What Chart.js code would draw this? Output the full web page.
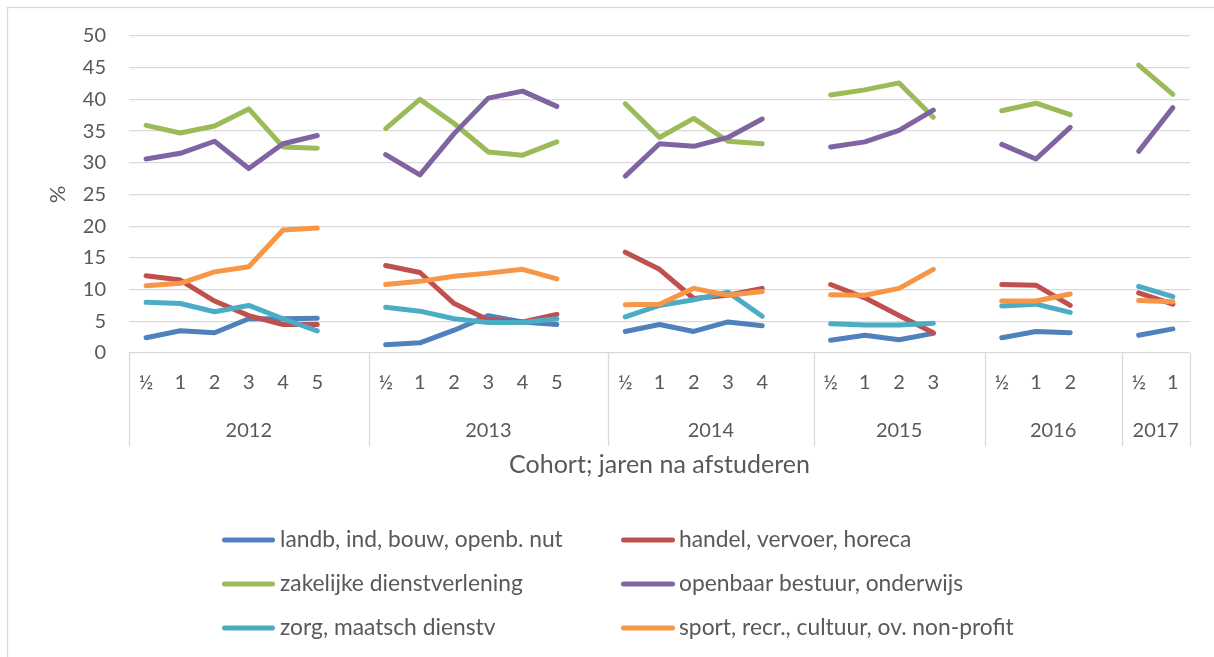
<!DOCTYPE html>
<html>
<head>
<meta charset="utf-8">
<script src="https://cdn.jsdelivr.net/npm/chart.js@4.4.1/dist/chart.umd.min.js"></script>
<style>
  html, body { margin: 0; padding: 0; background: #ffffff; overflow: hidden; }
  #wrap { width: 1214px; height: 657px; position: relative; }
</style>
</head>
<body>
<div id="wrap"><canvas id="c" width="1214" height="657"></canvas></div>
<script>
// Cohorts (graduation year) and years after graduation measured per cohort
const cohorts = ['2012', '2013', '2014', '2015', '2016', '2017'];
const yearsAfter = [
  ['½', '1', '2', '3', '4', '5'],
  ['½', '1', '2', '3', '4', '5'],
  ['½', '1', '2', '3', '4'],
  ['½', '1', '2', '3'],
  ['½', '1', '2'],
  ['½', '1']
];

// Share of graduates per sector (%), one sub-array per cohort
const landbouwIndustrie = [
  [2.4, 3.5, 3.2, 5.4, 5.4, 5.5],
  [1.3, 1.6, 3.6, 5.9, 4.9, 4.5],
  [3.4, 4.5, 3.4, 4.9, 4.3],
  [2.0, 2.8, 2.1, 3.1],
  [2.4, 3.4, 3.2],
  [2.8, 3.8]
];
const handelVervoer = [
  [12.2, 11.5, 8.2, 5.9, 4.5, 4.5],
  [13.8, 12.7, 7.8, 5.2, 4.9, 6.1],
  [15.9, 13.2, 8.6, 9.1, 10.2],
  [10.8, 8.7, 5.9, 3.2],
  [10.8, 10.7, 7.5],
  [9.5, 7.7]
];
const zakelijkeDienst = [
  [35.9, 34.7, 35.8, 38.5, 32.5, 32.3],
  [35.4, 40.0, 36.2, 31.7, 31.2, 33.3],
  [39.3, 34.0, 37.0, 33.4, 33.0],
  [40.7, 41.5, 42.6, 37.2],
  [38.2, 39.4, 37.6],
  [45.4, 40.8]
];
const openbaarBestuur = [
  [30.6, 31.5, 33.4, 29.1, 33.0, 34.3],
  [31.3, 28.1, 34.6, 40.2, 41.3, 38.9],
  [27.9, 33.0, 32.6, 34.0, 36.9],
  [32.5, 33.3, 35.1, 38.3],
  [32.9, 30.6, 35.6],
  [31.8, 38.7]
];
const zorgMaatsch = [
  [8.0, 7.8, 6.5, 7.5, 5.4, 3.5],
  [7.2, 6.6, 5.4, 4.8, 4.8, 5.4],
  [5.7, 7.5, 8.4, 9.6, 5.8],
  [4.6, 4.4, 4.4, 4.7],
  [7.4, 7.7, 6.4],
  [10.5, 8.9]
];
const sportCultuur = [
  [10.6, 11.0, 12.8, 13.6, 19.4, 19.7],
  [10.8, 11.3, 12.1, 12.6, 13.2, 11.7],
  [7.6, 7.7, 10.2, 9.1, 9.7],
  [9.2, 9.1, 10.2, 13.2],
  [8.2, 8.2, 9.3],
  [8.3, 8.1]
];

const seriesNames = [
  'landb, ind, bouw, openb. nut',
  'handel, vervoer, horeca',
  'zakelijke dienstverlening',
  'openbaar bestuur, onderwijs',
  'zorg, maatsch dienstv',
  'sport, recr., cultuur, ov. non-profit'
];
const seriesValues = [landbouwIndustrie, handelVervoer, zakelijkeDienst, openbaarBestuur, zorgMaatsch, sportCultuur];
const seriesColors = ['#4f81bd', '#c0504d', '#9bbb59', '#8064a2', '#4bacc6', '#f79646'];

const TEXT = '#595959';
const GRID = '#d9d9d9';
const FONT = 'Lato, "Open Sans", sans-serif';

// Flatten the cohorts into one category axis; an empty slot separates cohorts
const labels = [];
const groupSpans = []; // [firstIndex, slotCount] per cohort
yearsAfter.forEach((yrs, g) => {
  const start = labels.length;
  yrs.forEach(y => labels.push(y));
  if (g < yearsAfter.length - 1) labels.push('');
  groupSpans.push([start, labels.length - start]);
});
function flatten(groups) {
  const out = [];
  groups.forEach((vals, g) => {
    vals.forEach(v => out.push(v));
    if (g < groups.length - 1) out.push(null);
  });
  return out;
}

const datasets = seriesValues.map((vals, i) => ({
  label: seriesNames[i],
  data: flatten(vals),
  borderColor: seriesColors[i],
  backgroundColor: seriesColors[i],
  borderWidth: 5,
  borderCapStyle: 'round',
  borderJoinStyle: 'round',
  pointRadius: 0,
  pointHoverRadius: 0,
  tension: 0,
  spanGaps: false,
  order: seriesValues.length - i
}));

// Outer frame of the chart object
const frame = {
  id: 'frame',
  beforeDraw(chart) {
    const ctx = chart.ctx;
    ctx.save();
    ctx.fillStyle = '#ffffff';
    ctx.fillRect(0, 0, chart.width, chart.height);
    ctx.strokeStyle = GRID;
    ctx.lineWidth = 1.3;
    ctx.strokeRect(7.5, 7.5, chart.width + 20, chart.height + 20);
    ctx.restore();
  }
};

// Second category level: cohort year under the years-after labels
const cohortAxis = {
  id: 'cohortAxis',
  afterDraw(chart) {
    const sx = chart.scales.x;
    const ctx = chart.ctx;
    const step = sx.getPixelForValue(1) - sx.getPixelForValue(0);
    const top = sx.top;
    const bottom = top + 93;
    ctx.save();
    ctx.strokeStyle = GRID;
    ctx.lineWidth = 1.3;
    const edge = i => sx.getPixelForValue(i) - step / 2;
    const bounds = groupSpans.map(s => edge(s[0]));
    const last = groupSpans[groupSpans.length - 1];
    bounds.push(edge(last[0] + last[1]));
    bounds.forEach(x => {
      ctx.beginPath();
      ctx.moveTo(Math.round(x) + 0.5, top);
      ctx.lineTo(Math.round(x) + 0.5, bottom);
      ctx.stroke();
    });
    ctx.fillStyle = TEXT;
    ctx.font = '20px ' + FONT;
    ctx.textAlign = 'center';
    ctx.textBaseline = 'middle';
    cohorts.forEach((c, g) => {
      ctx.fillText(c, (bounds[g] + bounds[g + 1]) / 2, 431);
    });
    ctx.restore();
  }
};

// Two-column legend below the axis title
const gridLegend = {
  id: 'gridLegend',
  afterDraw(chart) {
    const ctx = chart.ctx;
    const rowsY = [540, 584, 628];
    const cols = [{ x1: 224.5, x2: 272.5, tx: 280 }, { x1: 623.5, x2: 672.5, tx: 679 }];
    ctx.save();
    ctx.font = '22.8px ' + FONT;
    ctx.textAlign = 'left';
    ctx.textBaseline = 'middle';
    chart.data.datasets.forEach((ds, i) => {
      const c = cols[i % 2];
      const y = rowsY[Math.floor(i / 2)];
      ctx.strokeStyle = ds.borderColor;
      ctx.lineWidth = 5;
      ctx.lineCap = 'round';
      ctx.beginPath();
      ctx.moveTo(c.x1, y);
      ctx.lineTo(c.x2, y);
      ctx.stroke();
      ctx.fillStyle = TEXT;
      ctx.fillText(ds.label, c.tx, y);
    });
    ctx.restore();
  }
};

new Chart(document.getElementById('c'), {
  type: 'line',
  data: { labels, datasets },
  options: {
    responsive: false,
    animation: false,
    events: [],
    layout: { padding: { left: 0, top: 36, right: 24, bottom: 177 } },
    plugins: {
      legend: { display: false },
      tooltip: { enabled: false },
      title: { display: false }
    },
    scales: {
      x: {
        type: 'category',
        offset: true,
        grid: { display: false, drawTicks: false },
        border: { display: false },
        ticks: {
          autoSkip: false,
          maxRotation: 0,
          minRotation: 0,
          padding: 18,
          color: TEXT,
          font: { family: FONT, size: 20 }
        },
        title: {
          display: true,
          text: 'Cohort; jaren na afstuderen',
          color: TEXT,
          font: { family: FONT, size: 25 },
          padding: { top: 0, bottom: 0 }
        },
        afterFit(scale) { scale.height = 127; }
      },
      y: {
        min: 0,
        max: 50,
        grid: { color: GRID, lineWidth: 1.3, drawTicks: false },
        border: { display: false },
        ticks: {
          stepSize: 5,
          padding: 23,
          color: TEXT,
          font: { family: FONT, size: 20 }
        },
        title: {
          display: true,
          text: '%',
          color: TEXT,
          font: { family: FONT, size: 22 },
          padding: { top: 45, bottom: 0 }
        },
        afterFit(scale) { scale.width = 129; }
      }
    }
  },
  plugins: [frame, cohortAxis, gridLegend]
});
</script>
</body>
</html>
